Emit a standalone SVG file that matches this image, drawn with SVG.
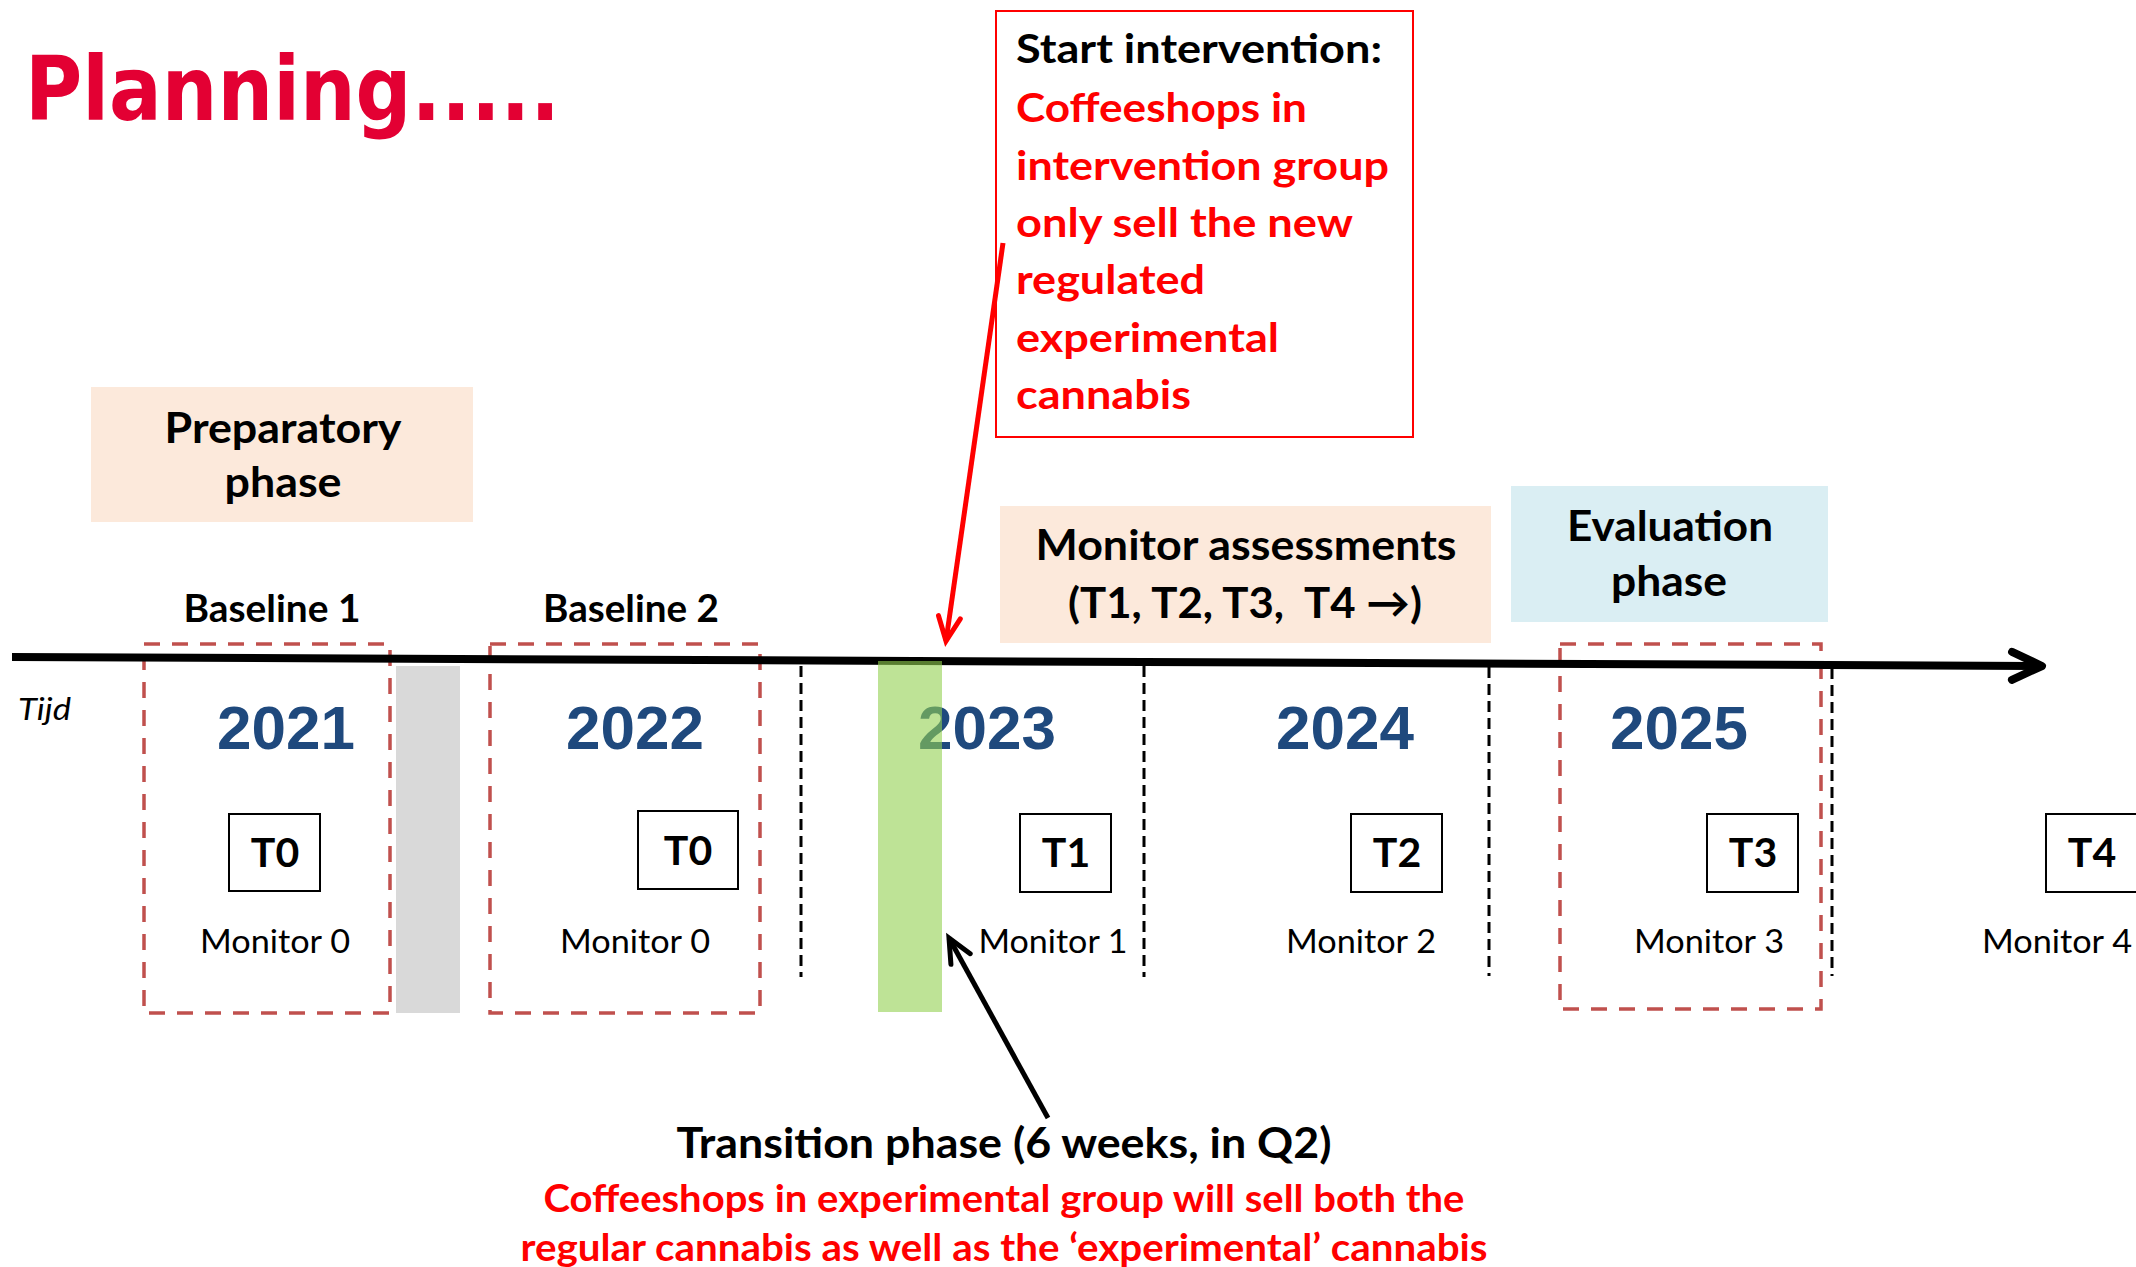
<svg xmlns="http://www.w3.org/2000/svg" width="2136" height="1267" viewBox="0 0 2136 1267">
  <style>
    .lbl { font-family: Lato, "Open Sans", "Liberation Sans", sans-serif; font-weight: 700; fill: #000; }
    .ctr { text-anchor: middle; }
    .red { fill: #FF0000; }
    .big { font-size: 42px; }
    .note { font-size: 41px; }
    .bl { font-size: 38px; }
    .pre { white-space: pre; }
    .yr { font-family: "Liberation Sans", Arial, sans-serif; font-weight: 700; font-size: 62px; fill: #1F497D; text-anchor: middle; }
    .tbox { fill: #FFFFFF; stroke: #000; stroke-width: 2; }
    .tt { font-size: 41px; text-anchor: middle; }
    .mon { font-weight: 400; font-size: 33px; text-anchor: middle; }
    .dred { fill: none; stroke: #C0504D; stroke-width: 3.5; stroke-dasharray: 16 12; }
    .dblk { stroke: #000; stroke-width: 3; stroke-dasharray: 11 6; fill: none; }
    .peach { fill: #FCE9DB; }
    .blue { fill: #DAEEF3; }
  </style>
  <defs>
    <marker id="arrTime" markerUnits="userSpaceOnUse" markerWidth="60" markerHeight="60" refX="0" refY="0" viewBox="-40 -30 60 60" orient="auto" overflow="visible">
      <path d="M -30 -14 L 0 0 L -30 14" fill="none" stroke="#000" stroke-width="8" stroke-linecap="round" stroke-linejoin="round"/>
    </marker>
    <marker id="arrRed" markerUnits="userSpaceOnUse" markerWidth="50" markerHeight="50" refX="0" refY="0" viewBox="-30 -25 50 50" orient="auto" overflow="visible">
      <path d="M -24 -11 L 0 0 L -24 11" fill="none" stroke="#FF0000" stroke-width="5" stroke-linecap="round" stroke-linejoin="miter"/>
    </marker>
    <marker id="arrBlk" markerUnits="userSpaceOnUse" markerWidth="50" markerHeight="50" refX="0" refY="0" viewBox="-30 -25 50 50" orient="auto" overflow="visible">
      <path d="M -24 -11 L 0 0 L -24 11" fill="none" stroke="#000" stroke-width="5" stroke-linecap="round" stroke-linejoin="miter"/>
    </marker>
  </defs>

  <rect x="0" y="0" width="2136" height="1267" fill="#FFFFFF"/>

  <g id="title">
    <text x="25" y="120" font-family="'DejaVu Sans', Verdana, sans-serif" font-weight="700" font-size="89" fill="#E30033" textLength="535" lengthAdjust="spacingAndGlyphs">Planning.....</text>
  </g>

  <g id="preparatory-phase">
    <rect class="peach" x="91" y="387" width="382" height="135"/>
    <text class="lbl big ctr" x="283" y="443" textLength="237" lengthAdjust="spacingAndGlyphs">Preparatory</text>
    <text class="lbl big ctr" x="283" y="497" textLength="117" lengthAdjust="spacingAndGlyphs">phase</text>
  </g>

  <g id="monitor-assessments">
    <rect class="peach" x="1000" y="506" width="491" height="137"/>
    <text class="lbl big ctr" x="1246" y="560" textLength="421" lengthAdjust="spacingAndGlyphs">Monitor assessments</text>
    <text class="lbl big ctr pre" x="1245" y="618" textLength="354" lengthAdjust="spacingAndGlyphs" xml:space="preserve">(T1, T2, T3,  T4 →)</text>
  </g>

  <g id="evaluation-phase">
    <rect class="blue" x="1511" y="486" width="317" height="136"/>
    <text class="lbl big ctr" x="1670" y="541" textLength="206" lengthAdjust="spacingAndGlyphs">Evaluation</text>
    <text class="lbl big ctr" x="1669" y="596" textLength="116" lengthAdjust="spacingAndGlyphs">phase</text>
  </g>

  <g id="start-intervention">
    <rect x="996" y="11" width="417" height="426" fill="#FFFFFF" stroke="#FF0000" stroke-width="2"/>
    <text class="lbl note" x="1016" y="63" textLength="366" lengthAdjust="spacingAndGlyphs">Start intervention:</text>
    <text class="lbl note red" x="1016" y="122" textLength="291" lengthAdjust="spacingAndGlyphs">Coffeeshops in</text>
    <text class="lbl note red" x="1016" y="180" textLength="373" lengthAdjust="spacingAndGlyphs">intervention group</text>
    <text class="lbl note red" x="1016" y="237" textLength="337" lengthAdjust="spacingAndGlyphs">only sell the new</text>
    <text class="lbl note red" x="1016" y="294" textLength="189" lengthAdjust="spacingAndGlyphs">regulated</text>
    <text class="lbl note red" x="1016" y="352" textLength="263" lengthAdjust="spacingAndGlyphs">experimental</text>
    <text class="lbl note red" x="1016" y="409" textLength="175" lengthAdjust="spacingAndGlyphs">cannabis</text>
  </g>

  <g id="tijd">
    <text x="18" y="720" font-family="Lato, 'Open Sans', sans-serif" font-style="italic" font-size="31" fill="#000" textLength="53" lengthAdjust="spacingAndGlyphs">Tijd</text>
  </g>

  <g id="baseline-1">
    <text class="lbl bl ctr" x="272" y="622" textLength="177" lengthAdjust="spacingAndGlyphs">Baseline 1</text>
    <rect class="dred" x="144" y="644" width="246" height="369"/>
    <text class="yr" x="286" y="749">2021</text>
    <rect class="tbox" x="229" y="814" width="91" height="77"/>
    <text class="lbl tt" x="275" y="867">T0</text>
    <text class="lbl mon" x="275" y="953" textLength="150" lengthAdjust="spacingAndGlyphs">Monitor 0</text>
  </g>

  <g id="gap-bar">
    <rect x="396" y="666" width="64" height="347" fill="#D9D9D9"/>
  </g>

  <g id="baseline-2">
    <text class="lbl bl ctr" x="631" y="622" textLength="176" lengthAdjust="spacingAndGlyphs">Baseline 2</text>
    <rect class="dred" x="490" y="644" width="270" height="369"/>
    <text class="yr" x="635" y="749">2022</text>
    <rect class="tbox" x="638" y="811" width="100" height="78"/>
    <text class="lbl tt" x="688" y="865">T0</text>
    <text class="lbl mon" x="635" y="953" textLength="150" lengthAdjust="spacingAndGlyphs">Monitor 0</text>
  </g>

  <g id="year-2023">
    <text class="yr" x="987" y="749">2023</text>
    <rect class="tbox" x="1020" y="814" width="91" height="78"/>
    <text class="lbl tt" x="1066" y="867">T1</text>
    <text class="lbl mon" x="1053" y="953" textLength="149" lengthAdjust="spacingAndGlyphs">Monitor 1</text>
  </g>

  <g id="year-2024">
    <text class="yr" x="1345" y="749">2024</text>
    <rect class="tbox" x="1351" y="814" width="91" height="78"/>
    <text class="lbl tt" x="1397" y="867">T2</text>
    <text class="lbl mon" x="1361" y="953" textLength="150" lengthAdjust="spacingAndGlyphs">Monitor 2</text>
  </g>

  <g id="year-2025">
    <rect class="dred" x="1560" y="644" width="261" height="365"/>
    <text class="yr" x="1679" y="749">2025</text>
    <rect class="tbox" x="1707" y="814" width="91" height="78"/>
    <text class="lbl tt" x="1753" y="867">T3</text>
    <text class="lbl mon" x="1709" y="953" textLength="150" lengthAdjust="spacingAndGlyphs">Monitor 3</text>
  </g>

  <g id="after-2025">
    <rect class="tbox" x="2046" y="814" width="91" height="78"/>
    <text class="lbl tt" x="2092" y="867">T4</text>
    <text class="lbl mon" x="2057" y="953" textLength="150" lengthAdjust="spacingAndGlyphs">Monitor 4</text>
  </g>

  <g id="connectors">
    <line x1="12" y1="657" x2="2042" y2="666" stroke="#000" stroke-width="8" marker-end="url(#arrTime)"/>
    <line class="dblk" x1="801" y1="666" x2="801" y2="977"/>
    <line class="dblk" x1="1144" y1="666" x2="1144" y2="977"/>
    <line class="dblk" x1="1489" y1="667" x2="1489" y2="976"/>
    <line class="dblk" x1="1832" y1="668" x2="1832" y2="976"/>
    <line x1="1003" y1="243" x2="946" y2="641" stroke="#FF0000" stroke-width="5" marker-end="url(#arrRed)"/>
    <line x1="1048" y1="1118" x2="949" y2="938" stroke="#000" stroke-width="5" marker-end="url(#arrBlk)"/>
  </g>

  <g id="transition-bar">
    <rect x="878" y="661" width="64" height="351" fill="#92D050" fill-opacity="0.6"/>
  </g>

  <g id="transition-phase">
    <text class="lbl big ctr" x="1004" y="1158" textLength="655" lengthAdjust="spacingAndGlyphs">Transition phase (6 weeks, in Q2)</text>
    <text class="lbl bl ctr red" x="1004" y="1212" textLength="921" lengthAdjust="spacingAndGlyphs">Coffeeshops in experimental group will sell both the</text>
    <text class="lbl bl ctr red" x="1004" y="1261" textLength="967" lengthAdjust="spacingAndGlyphs">regular cannabis as well as the ‘experimental’ cannabis</text>
  </g>
</svg>
